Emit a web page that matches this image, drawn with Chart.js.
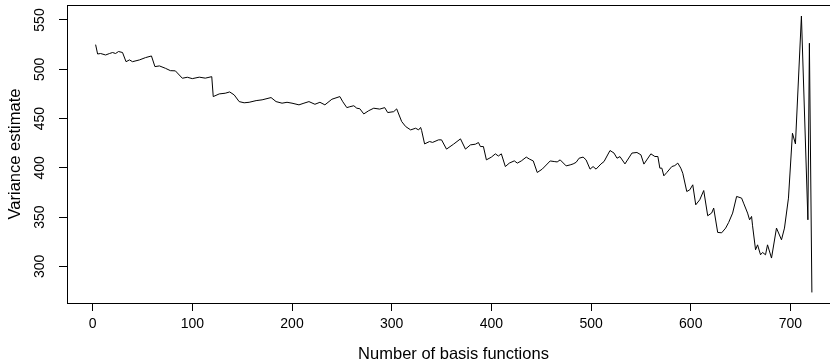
<!DOCTYPE html>
<html>
<head>
<meta charset="utf-8">
<script src="https://cdn.jsdelivr.net/npm/chart.js@4.4.1/dist/chart.umd.min.js"></script>
<style>
  html, body { margin: 0; padding: 0; background: #fff; overflow: hidden; }
  #wrap { width: 830px; height: 363px; overflow: hidden; }
  #box { width: 846px; height: 363px; position: relative; }
</style>
</head>
<body>
<div id="wrap"><div id="box"><canvas id="varChart"></canvas></div></div>
<script>
// basis function counts and the variance estimate at each
const basisCounts = [3, 5, 8, 13, 17, 20, 23, 26, 30, 33.5, 37, 40, 47, 53, 59, 62.5, 67, 73, 78, 83,
  90, 95, 100, 107, 113, 119.5, 121, 127, 133, 137.5, 142, 147, 152, 157, 164, 170, 179, 184, 190, 195,
  200, 207, 212, 217, 223, 228, 233, 240, 248, 251, 255, 258, 262, 265, 268, 272, 277, 282, 288, 293,
  296, 302, 305, 310, 314, 319, 324, 327, 329, 330, 333, 338, 341, 347, 350, 355, 362, 369, 374, 379,
  384, 387, 389, 392, 395, 400, 404, 407, 410, 414, 418, 423, 426, 430, 435, 438, 442, 446, 451, 459,
  463, 466, 469, 475, 479, 482, 485, 488, 492, 495, 499, 502, 505, 510, 513, 519, 523, 526, 529, 534,
  541, 546, 550, 553, 560, 564, 567, 569, 571, 573, 576, 581, 584, 587, 590, 592, 596, 599, 602, 605,
  609, 613, 617, 621, 623, 627, 631, 635, 638, 642, 646, 651, 653, 657, 659, 661, 662, 665, 667, 670,
  672, 675, 677, 681, 686, 691, 694, 698, 702, 705, 711, 717.5, 719, 721.5];
const varianceEst = [525, 515.5, 516, 514.5, 516, 517, 516, 518, 517, 507.7, 509.5, 507.7, 509.5, 511.8, 513.5, 502.7, 503.4, 501, 498.6, 498.4,
  490.9, 491.9, 490.5, 492, 491, 492.5, 472.3, 475, 475.7, 477, 474, 467.2, 466, 466.5, 468.2, 469, 471.3, 467.2, 465.6, 466.5,
  465.6, 463.9, 465.6, 467.2, 464.5, 466.5, 463.9, 469.6, 472.3, 467, 461.1, 462, 463, 460.5, 460, 454.7, 458, 460.5, 459.6, 461.1,
  456.1, 457, 459.8, 447, 441.9, 438.5, 440.2, 438.5, 441, 438, 424.3, 426.7, 425.8, 428.4, 428.4, 419, 424, 429.4, 419, 423.3,
  424, 425.7, 421.6, 421.6, 408.1, 410.9, 414.2, 412, 414.2, 401.3, 404.8, 407.1, 404.8, 407, 410.9, 409, 407, 395.3, 398.7, 407,
  406.4, 406, 408.1, 402, 403, 404, 405.6, 409.8, 410.9, 408.1, 398.7, 401.3, 398.7, 404, 406.4, 417.6, 415, 409.8, 411.4, 404,
  415, 415.6, 413.2, 403.8, 414.2, 411.5, 411.5, 399.7, 399.7, 391.9, 395.3, 401.3, 402.3, 404.8, 399.7, 394.5, 376, 377.7, 382.8, 362.5,
  367.6, 377, 351.4, 354.2, 359.2, 334.5, 334.1, 338.9, 344.6, 354.1, 371, 369.3, 364.2, 354.1, 347.3, 350.7, 341.2, 316.9, 321.9, 311.8,
  314.2, 311.8, 321.9, 308.5, 338.9, 327, 338.9, 369.3, 435.1, 424.3, 554, 347.3, 526.4, 273.6];

const xTicks = [0, 100, 200, 300, 400, 500, 600, 700];
const yTicks = [300, 350, 400, 450, 500, 550];
const xTitle = 'Number of basis functions';
const yTitle = 'Variance estimate';

const FONT = "'Liberation Sans', Arial, sans-serif";

// box round the plot region, upright y tick labels and both axis titles
const frame = {
  id: 'frame',
  afterDraw(chart) {
    const { ctx, chartArea: a, scales } = chart;
    ctx.save();
    ctx.strokeStyle = '#000';
    ctx.lineWidth = 1;
    ctx.strokeRect(Math.round(a.left) + 0.5, Math.round(a.top) + 0.5,
      Math.round(a.right - a.left), Math.round(a.bottom - a.top));
    ctx.fillStyle = '#000';
    ctx.textAlign = 'center';
    ctx.textBaseline = 'middle';

    ctx.font = '14px ' + FONT;
    yTicks.forEach(v => {
      const y = scales.y.getPixelForValue(v);
      ctx.save();
      ctx.translate(40, y);
      ctx.rotate(-Math.PI / 2);
      ctx.fillText(String(v), 0, 0);
      ctx.restore();
    });

    ctx.font = '16.5px ' + FONT;
    ctx.fillText(xTitle, (a.left + a.right) / 2, 354);
    ctx.save();
    ctx.translate(15, (a.top + a.bottom) / 2);
    ctx.rotate(-Math.PI / 2);
    ctx.fillText(yTitle, 0, 0);
    ctx.restore();
    ctx.restore();
  }
};

new Chart(document.getElementById('varChart'), {
  type: 'line',
  data: {
    datasets: [{
      data: basisCounts.map((x, i) => ({ x: x, y: varianceEst[i] })),
      borderColor: '#000',
      borderWidth: 1,
      pointRadius: 0,
      tension: 0,
      fill: false
    }]
  },
  options: {
    responsive: true,
    maintainAspectRatio: false,
    animation: false,
    layout: { padding: { top: 5, right: 6, left: 0, bottom: 0 } },
    plugins: { legend: { display: false }, tooltip: { enabled: false } },
    scales: {
      x: {
        type: 'linear',
        min: -25.7,
        max: 749.7,
        afterBuildTicks: s => { s.ticks = xTicks.map(v => ({ value: v })); },
        afterFit: s => { s.height = 60; },
        grid: { drawOnChartArea: false, tickLength: 8, color: '#000', tickColor: '#000' },
        border: { display: false },
        ticks: { color: '#000', font: { size: 14, family: FONT }, padding: 5, maxRotation: 0, autoSkip: false }
      },
      y: {
        type: 'linear',
        min: 262.9,
        max: 565.2,
        afterBuildTicks: s => { s.ticks = yTicks.map(v => ({ value: v })); },
        afterFit: s => { s.width = 67; },
        grid: { drawOnChartArea: false, tickLength: 8, color: '#000', tickColor: '#000' },
        border: { display: false },
        ticks: { display: false }
      }
    }
  },
  plugins: [frame]
});
</script>
</body>
</html>
